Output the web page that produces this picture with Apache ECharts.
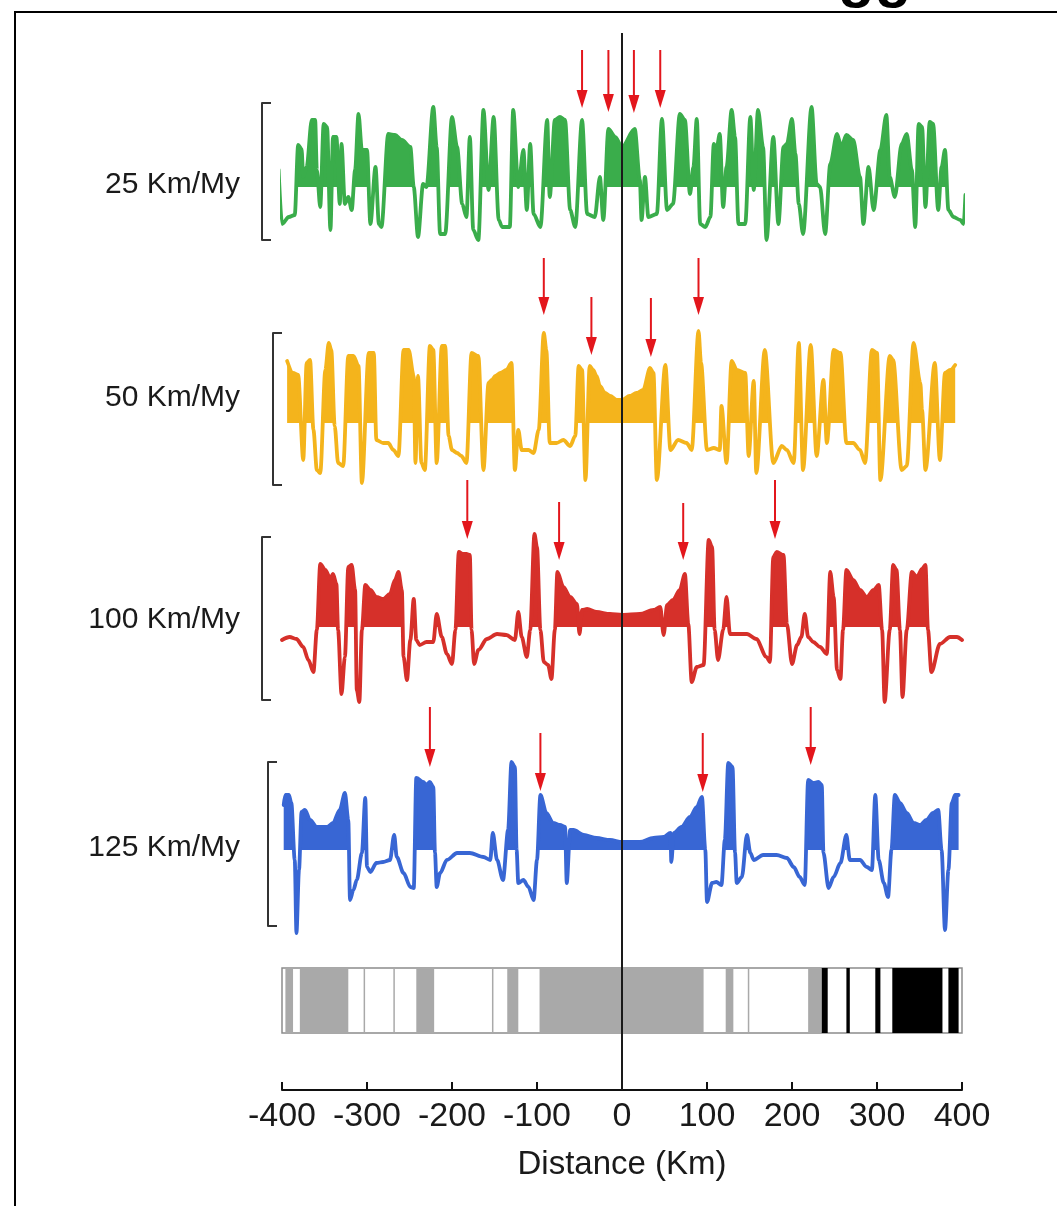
<!DOCTYPE html>
<html>
<head>
<meta charset="utf-8">
<script src="https://cdn.jsdelivr.net/npm/echarts@6/dist/echarts.min.js"></script>
<style>
html, body { margin: 0; padding: 0; background: #fff; }
#chart { width: 1057px; height: 1206px; }
</style>
</head>
<body>
<div id="chart"></div>
<script>
// spreading-rate labels, one per profile
const rateLabels = ['25 Km/My', '50 Km/My', '100 Km/My', '125 Km/My'];

// anomaly profiles: [distance km, anomaly (arbitrary units)]
const green = [
  [-404,17],[-400,-37],[-392,-30],[-385,-28],[-381,42],[-377,38],[-375,10],[-371,20],[-365,67],[-361,67],[-359,17],[-355,-20],
  [-351,63],[-347,60],[-343,-43],[-340,50],[-336,50],[-332,-17],[-330,43],[-326,-17],[-322,-10],[-318,-23],[-314,17],[-310,73],
  [-306,37],[-300,37],[-296,-37],[-290,20],[-286,-37],[-283,-40],[-275,53],[-267,52],[-259,47],[-249,40],[-245,0],[-240,-50],
  [-234,3],[-230,0],[-222,80],[-218,40],[-214,-47],[-208,-47],[-200,70],[-194,40],[-188,-17],[-183,-30],[-179,50],[-175,-43],
  [-169,-53],[-163,77],[-157,-3],[-151,70],[-145,-33],[-141,-40],[-132,-40],[-128,77],[-122,0],[-116,37],[-112,-23],[-108,43],
  [-104,-27],[-96,-40],[-88,67],[-85,-10],[-79,67],[-73,70],[-67,67],[-61,-23],[-55,-40],[-47,67],[-41,-27],[-32,-30],[-26,10],
  [-22,-33],[-16,58],[-8,50],
  [0,40],[15,58],[21,7],[23,-33],[27,10],[31,-30],[41,-27],[47,68],[53,-23],[60,-17],[68,73],[74,67],[80,-7],[84,20],[88,68],
  [92,-37],[98,-40],[104,-30],[108,43],[111,37],[115,53],[119,-20],[123,20],[129,77],[133,50],[137,-37],[145,-37],[151,70],
  [155,-3],[160,77],[166,40],[170,-53],[178,50],[184,-37],[190,40],[194,43],[200,68],[204,33],[208,-17],[213,-47],[223,80],
  [229,3],[233,0],[239,-47],[245,23],[253,53],[258,40],[264,52],[272,47],[280,10],[284,-37],[290,20],[296,-23],[304,37],
  [311,72],[315,10],[321,-10],[329,43],[335,53],[341,17],[345,-40],[349,63],[353,60],[357,-20],[362,65],[366,63],[372,-23],
  [376,20],[380,37],[384,-23],[390,-30],[398,-33],[402,-37],[404,-8]
];
const yellow = [
  [-394,62],[-387,50],[-381,48],[-375,-37],[-371,60],[-367,63],[-363,-7],[-359,-47],[-355,-50],[-349,53],[-345,80],[-342,73],
  [-338,-3],[-334,-40],[-328,-43],[-322,67],[-316,67],[-310,57],[-306,-60],[-298,70],[-292,70],[-289,-17],[-281,-20],[-275,-20],
  [-269,-27],[-263,-33],[-257,73],[-251,73],[-245,47],[-243,-40],[-240,47],[-236,-40],[-232,-47],[-226,77],[-222,73],[-218,-40],
  [-212,77],[-208,77],[-204,-13],[-200,-27],[-194,-30],[-189,-33],[-183,-40],[-177,70],[-169,67],[-163,-47],[-157,40],[-153,43],
  [-149,47],[-143,50],[-136,53],[-130,60],[-126,-47],[-122,-7],[-118,-27],[-110,-27],[-104,-30],[-98,-7],[-92,90],[-89,73],
  [-85,-20],[-77,-20],[-69,-17],[-61,-23],[-55,-13],[-51,57],[-47,53],[-43,-57],[-38,57],[-34,53],[-30,47],[-26,37],[-20,30],
  [-14,27],[-6,23],
  [0,23],[9,27],[17,30],[25,33],[33,55],[37,50],[41,-57],[51,58],[57,-27],[66,-17],[76,-20],[82,-27],[90,92],[93,60],[100,-27],
  [108,-25],[115,-27],[117,17],[123,-40],[129,62],[135,53],[145,50],[149,-33],[155,42],[158,-50],[168,73],[178,-40],[188,-23],
  [194,-27],[202,-40],[208,80],[213,-47],[222,78],[229,-33],[237,43],[241,-20],[249,73],[257,70],[264,-20],[272,-20],[280,-27],
  [286,-40],[294,73],[300,70],[304,-57],[315,67],[319,63],[329,-47],[335,-43],[343,80],[351,40],[353,13],[357,-47],[368,60],
  [374,-37],[380,50],[386,53],[392,58]
];
const red = [
  [-400,-13],[-391,-10],[-383,-12],[-375,-20],[-369,-33],[-363,-45],[-359,-3],[-355,63],[-349,57],[-343,48],[-340,53],[-336,43],
  [-334,-3],[-330,-67],[-326,-30],[-322,60],[-318,62],[-314,37],[-312,-63],[-309,-75],[-306,-3],[-302,42],[-296,37],[-289,30],
  [-281,28],[-273,33],[-267,47],[-263,55],[-259,37],[-257,-30],[-253,-53],[-249,-13],[-245,28],[-242,-13],[-238,-18],[-230,-15],
  [-222,-15],[-218,13],[-212,-10],[-206,-27],[-200,-37],[-196,-3],[-192,75],[-187,73],[-183,73],[-179,72],[-177,-3],[-174,-37],
  [-169,-23],[-159,-12],[-147,-7],[-136,-8],[-126,-13],[-122,15],[-118,-10],[-112,-30],[-108,-3],[-103,93],[-100,80],[-96,-3],
  [-92,-35],[-87,-38],[-83,-52],[-79,-3],[-76,55],[-69,40],[-61,30],[-53,23],[-50,-7],[-47,17],[-41,18],[-30,15],[-14,13],
  [0,12],[21,13],[37,17],[45,20],[49,-8],[53,22],[60,27],[68,37],[74,53],[78,3],[82,-55],[88,-40],[96,-38],[102,87],[106,80],
  [109,-3],[113,-33],[119,-3],[123,30],[127,-7],[135,-7],[147,-7],[158,-12],[170,-30],[174,-35],[178,70],[182,75],[190,72],
  [194,3],[200,-37],[206,-18],[211,-10],[215,13],[219,-10],[225,-15],[233,-20],[241,-27],[245,55],[249,30],[253,-43],[257,-52],
  [260,-3],[264,57],[272,47],[280,37],[288,30],[296,37],[302,42],[306,-3],[309,-75],[315,-3],[319,62],[323,57],[327,-3],
  [330,-70],[335,-3],[341,55],[347,50],[353,58],[357,62],[360,-3],[364,-45],[374,-17],[386,-10],[394,-10],[400,-13]
];
const blue = [
  [-398,45],[-396,55],[-392,55],[-389,47],[-385,-10],[-383,-83],[-380,-20],[-377,38],[-373,40],[-367,30],[-359,23],[-347,23],
  [-340,27],[-332,40],[-326,57],[-322,30],[-320,-50],[-316,-40],[-312,-30],[-306,-3],[-302,52],[-300,-17],[-296,-22],[-289,-13],
  [-281,-12],[-273,-10],[-268,15],[-265,-7],[-257,-23],[-249,-37],[-245,-38],[-242,72],[-234,68],[-230,65],[-226,68],[-222,63],
  [-220,-3],[-218,-37],[-214,-23],[-206,-10],[-194,-3],[-179,-3],[-163,-7],[-155,-10],[-152,17],[-147,-10],[-140,-30],[-134,20],
  [-130,88],[-126,83],[-124,0],[-122,-33],[-116,-30],[-110,-37],[-104,-50],[-100,-10],[-96,55],[-89,37],[-81,27],[-73,25],
  [-67,23],[-65,-33],[-61,20],[-57,20],[-45,15],[-30,12],[-14,10],
  [0,8],[21,8],[37,12],[49,13],[57,17],[58,-12],[61,17],[70,23],[80,33],[88,43],[94,53],[98,0],[100,-52],[106,-33],[111,-32],
  [117,-35],[121,10],[125,87],[130,83],[133,-3],[135,-33],[141,-27],[147,15],[151,-3],[155,-10],[166,-5],[182,-5],[194,-8],
  [202,-17],[209,-27],[215,-35],[219,70],[225,67],[231,68],[235,65],[237,-3],[243,-38],[249,-27],[257,-13],[264,15],[268,-10],
  [280,-10],[288,-17],[294,-20],[298,55],[302,-10],[308,-33],[313,-47],[317,0],[321,55],[327,47],[335,37],[343,27],[351,25],
  [358,30],[366,37],[372,40],[376,0],[380,-80],[384,-20],[388,47],[392,55],[396,55]
];

// red arrows: [km, top, tip]
const arrowsGreen = [[-47,137,79],[-16,137,75],[14,137,74],[45,137,79]];
const arrowsYellow = [[-92,165,108],[-36,126,68],[34,125,66],[90,165,108]];
const arrowsRed = [[-182,147,88],[-74,125,67],[72,124,67],[180,147,88]];
const arrowsBlue = [[-226,143,83],[-96,117,59],[95,117,58],[222,143,85]];

// polarity stripes: [from km, to km]
const grayStripes = [[-396,-387],[-379,-322],[-304,-302.5],[-269,-267.5],[-242,-221],[-153,-151.5],[-135,-122],
  [-97,96],[122,131],[148,149.5],[219,235]];
const blackStripes = [[235,242],[264,268],[298,304],[318,377],[384,396]];

const profiles = [green, yellow, red, blue];
const arrows = [arrowsGreen, arrowsYellow, arrowsRed, arrowsBlue];
const colors = ['#3aad4b', '#f4b41c', '#d6302a', '#3866d4'];
const panelTop = [103, 333, 537, 762];
const yRange = [[-53, 84], [-62, 90], [-73, 90], [-76, 88]];
const barOffset = [20, 9, 20, 14];
const labelY = [185, 398, 620, 848];
const font = 'Liberation Sans, Arial, sans-serif';
const arrowColor = '#e3161c';

// positive lobes only, with the zero crossings added so the fill meets the line
function positivePart(pts) {
  const out = [];
  for (let i = 0; i < pts.length; i++) {
    const [x, y] = pts[i];
    if (i > 0) {
      const [x0, y0] = pts[i - 1];
      if ((y0 > 0) !== (y > 0) && y0 !== y) {
        out.push([x0 + (x - x0) * (0 - y0) / (y - y0), 0]);
      }
    }
    out.push([x, Math.max(y, 0)]);
  }
  return out;
}

function renderArrow(params, api) {
  const top = api.coord([api.value(0), api.value(1)]);
  const tip = api.coord([api.value(0), api.value(2)]);
  return {
    type: 'group',
    children: [
      { type: 'line', shape: { x1: top[0], y1: top[1], x2: tip[0], y2: tip[1] - 12 },
        style: { stroke: arrowColor, lineWidth: 2 } },
      { type: 'polygon', shape: { points: [[tip[0], tip[1]], [tip[0] - 5.5, tip[1] - 18], [tip[0] + 5.5, tip[1] - 18]] },
        style: { fill: arrowColor } }
    ]
  };
}

function stripeRenderer(color) {
  return function (params, api) {
    const p0 = api.coord([api.value(0), 1]);
    const p1 = api.coord([api.value(1), 0]);
    return { type: 'rect', shape: { x: p0[0], y: p0[1], width: Math.max(p1[0] - p0[0], 1.5), height: p1[1] - p0[1] },
      style: { fill: color } };
  };
}

const grid = [{ left: 282, right: 95, top: 33, height: 1057 }];
const xAxis = [{
  gridIndex: 0, type: 'value', min: -400, max: 400, interval: 100,
  axisLine: { onZero: false, lineStyle: { color: '#111', width: 2 } },
  axisTick: { inside: true, length: 8, lineStyle: { color: '#111', width: 2 } },
  axisLabel: { fontSize: 34, color: '#1a1a1a', fontFamily: font, margin: 10, showMinLabel: true, showMaxLabel: true },
  splitLine: { show: false },
  name: 'Distance (Km)', nameLocation: 'middle', nameGap: 58,
  nameTextStyle: { fontSize: 33, color: '#1a1a1a', fontFamily: font }
}];
const yAxis = [{ gridIndex: 0, type: 'value', min: 0, max: 1, show: false }];
const series = [{
  type: 'line', xAxisIndex: 0, yAxisIndex: 0, data: [[0, 0], [0, 1]], symbol: 'none', z: 20,
  lineStyle: { color: '#1a1a1a', width: 2 }, silent: true
}];

profiles.forEach(function (data, i) {
  const g = i + 1;
  const [lo, hi] = yRange[i];
  grid.push({ left: 282, right: 95, top: panelTop[i], height: hi - lo });
  xAxis.push({ gridIndex: g, type: 'value', min: -400, max: 400, show: false });
  yAxis.push({
    gridIndex: g, type: 'value', min: lo, max: hi, position: 'left', offset: barOffset[i],
    axisLine: { show: true, onZero: false, lineStyle: { color: '#333', width: 2 } },
    axisTick: { show: true, inside: true, length: 9, customValues: [lo, hi], lineStyle: { color: '#333', width: 2 } },
    axisLabel: { show: false }, splitLine: { show: false }
  });
  series.push({
    type: 'line', xAxisIndex: g, yAxisIndex: g, data: positivePart(data), symbol: 'none', clip: false, z: 2,
    smooth: 0.3, smoothMonotone: 'x',
    lineStyle: { width: 0 }, areaStyle: { color: colors[i], opacity: 1 }, silent: true
  });
  series.push({
    type: 'line', xAxisIndex: g, yAxisIndex: g, data: data, symbol: 'none', clip: false, z: 3,
    smooth: 0.3, smoothMonotone: 'x',
    lineStyle: { color: colors[i], width: 3.8, join: 'round', cap: 'round' }, silent: true
  });
  series.push({
    type: 'custom', xAxisIndex: g, yAxisIndex: g, data: arrows[i], renderItem: renderArrow, clip: false, z: 4,
    encode: { x: 0, y: [1, 2] }, silent: true
  });
});

// polarity bar
grid.push({ left: 282, right: 95, top: 968, height: 65, show: true, borderColor: '#8c8c8c', borderWidth: 1.5, backgroundColor: '#fff' });
xAxis.push({ gridIndex: 5, type: 'value', min: -400, max: 400, show: false });
yAxis.push({ gridIndex: 5, type: 'value', min: 0, max: 1, show: false });
series.push({ type: 'custom', xAxisIndex: 5, yAxisIndex: 5, data: grayStripes, renderItem: stripeRenderer('#a9a9a9'),
  encode: { x: [0, 1] }, z: 2, silent: true });
series.push({ type: 'custom', xAxisIndex: 5, yAxisIndex: 5, data: blackStripes, renderItem: stripeRenderer('#000'),
  encode: { x: [0, 1] }, z: 2, silent: true });

const graphic = [
  { type: 'rect', shape: { x: 15, y: 12, width: 1200, height: 1300 }, style: { fill: 'none', stroke: '#000', lineWidth: 2 }, z: 0 },
  { type: 'text', x: 838, y: 9, style: { text: 'gg', font: 'bold 60px ' + font, fill: '#000', verticalAlign: 'bottom' } }
];
rateLabels.forEach(function (t, i) {
  graphic.push({ type: 'text', x: 240, y: labelY[i],
    style: { text: t, font: '30px ' + font, fill: '#1a1a1a', align: 'right', verticalAlign: 'middle' } });
});

const chart = echarts.init(document.getElementById('chart'));
chart.setOption({
  animation: false,
  backgroundColor: '#fff',
  grid: grid,
  xAxis: xAxis,
  yAxis: yAxis,
  series: series,
  graphic: graphic
});
</script>
</body>
</html>
